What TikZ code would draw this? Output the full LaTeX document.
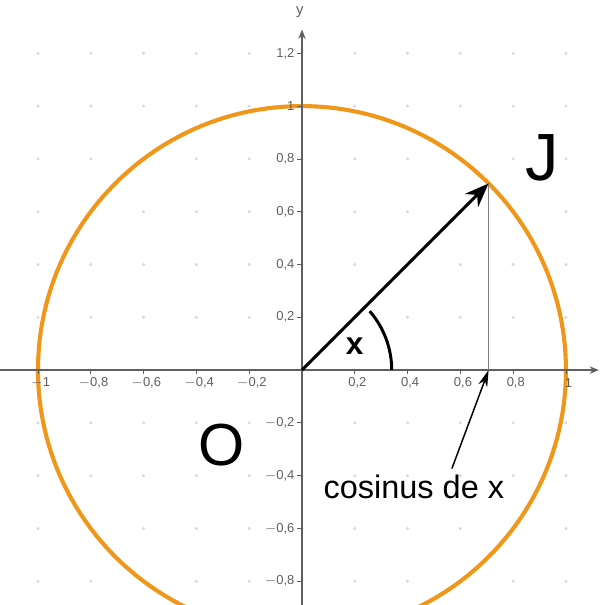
\documentclass[tikz,border=0pt]{standalone}
\usepackage{fontspec}
\setmainfont{Liberation Sans}
\usetikzlibrary{arrows.meta}
\definecolor{circorange}{RGB}{240,150,25}
\definecolor{axisgray}{RGB}{95,95,95}

\begin{document}
\begin{tikzpicture}[x=5cm,y=5cm,
    ticklab/.style={font=\fontsize{7}{8}\selectfont,text=axisgray,inner sep=1pt},
    biglab/.style={inner sep=0pt}]
  \useasboundingbox (-1.144,-0.890) rectangle (1.140,1.402);
  % faint grid points
  \foreach \i in {-5,...,5} \foreach \j in {-4,...,6}
    \fill[gray!30] (\i*0.2,\j*0.2) circle (0.9pt);
  \draw[circorange,line width=2.2pt] (0,0) circle (1);
  % axes
  \draw[axisgray,thick,-{Stealth[length=5pt,width=4pt]}] (-1.144,0) -- (1.125,0);
  \draw[axisgray,thick,-{Stealth[length=5pt,width=4pt]}] (0,-0.890) -- (0,1.29);
  \node[ticklab,font=\fontsize{8}{9}\selectfont] (ylab) at (-0.008,1.356) {y};
  \foreach \v/\t in {-1/{$-$1},-0.8/{$-$0,8},-0.6/{$-$0,6},-0.4/{$-$0,4},-0.2/{$-$0,2},0.2/{0,2},0.4/{0,4},0.6/{0,6},0.8/{0,8},1/{1}} {
    \draw[axisgray] (\v,0) -- (\v,-0.015);
    \node[ticklab] at (\v+0.01,-0.05) {\t};
  }
  \foreach \v/\t in {-0.8/{$-$0,8},-0.6/{$-$0,6},-0.4/{$-$0,4},-0.2/{$-$0,2},0.2/{0,2},0.4/{0,4},0.6/{0,6},0.8/{0,8},1/{1},1.2/{1,2}} {
    \draw[axisgray] (0,\v) -- (-0.02,\v);
    \node[ticklab,anchor=east] at (-0.02,\v) {\t};
  }
  \coordinate (O) at (0,0);
  \coordinate (P) at (45:1);
  \coordinate (C) at (P |- O);
  \draw[gray,thin] (P) -- (C);
  \draw[black,line width=1.6pt,-{Stealth[length=13pt,width=10pt]}] (O) -- (P);
  \draw[black,line width=1.6pt] (0.34,0) arc (0:41:0.34);
  \node[font=\fontsize{17}{18}\selectfont\bfseries] (xlab) at (0.2,0.091) {x};
  \node[biglab,font=\fontsize{36}{38}\selectfont] (Jlab) at (0.909,0.803) {J};
  \node[biglab,font=\fontsize{32}{34}\selectfont] (Olab) at (-0.303,-0.284) {O};
  \node[font=\fontsize{17.5}{19}\selectfont] (cos) at (0.424,-0.443) {cosinus de x};
  \draw[black,line width=0.8pt,-{Stealth[length=9pt,width=5pt]}] ([xshift=0.72cm]cos.north) -- (C);
\end{tikzpicture}
\end{document}
